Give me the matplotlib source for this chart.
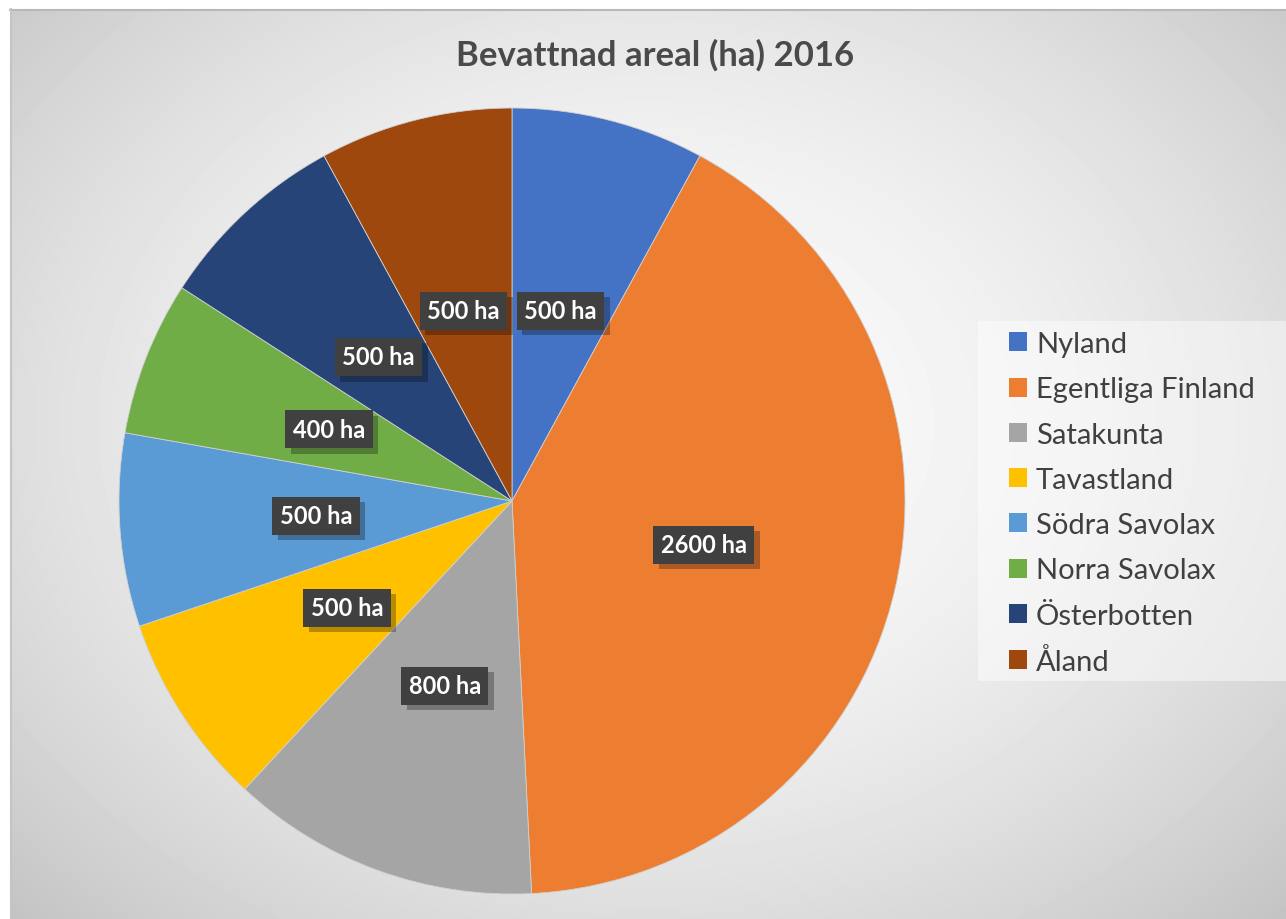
import numpy as np
import matplotlib.pyplot as plt
import matplotlib.patheffects as pe
from matplotlib.patches import Rectangle

# data
regions = ['Nyland', 'Egentliga Finland', 'Satakunta', 'Tavastland',
           'Södra Savolax', 'Norra Savolax', 'Österbotten', 'Åland']
area_ha = [500, 2600, 800, 500, 500, 400, 500, 500]
colors = ['#4472C4', '#ED7D31', '#A5A5A5', '#FFC000',
          '#5B9BD5', '#70AD47', '#264478', '#9E480E']
title = 'Bevattnad areal (ha) 2016'

plt.rcParams['font.family'] = ['Lato', 'DejaVu Sans']

W, H = 1286, 920
fig = plt.figure(figsize=(W / 100, H / 100), dpi=100)
fig.patch.set_facecolor('white')

# background: radial grey gradient in the chart area
bg = fig.add_axes([0, 0, 1, 1], zorder=0)
bg.set_xlim(0, W)
bg.set_ylim(H, 0)
bg.axis('off')
x0, y0 = 10, 10
xx, yy = np.meshgrid(np.linspace(x0, W, 400), np.linspace(y0, H, 300))
cx, cy = (x0 + W) / 2, (y0 + H) / 2 - 40
r = np.sqrt(((xx - cx) / (W - cx)) ** 2 + ((yy - cy) / (H - cy)) ** 2) / np.sqrt(2)
val = 0.985 - 0.22 * np.clip(r, 0, 1) ** 1.8
bg.imshow(val, cmap='gray', vmin=0, vmax=1, extent=(x0, W, H, y0),
          aspect='auto', interpolation='bilinear')
bg.plot([x0, W], [y0 + 0.5, y0 + 0.5], color='#b8b8b8', lw=1.5)
bg.plot([x0 + 0.5, x0 + 0.5], [y0, H], color='#c4c4c4', lw=1.5)
# legend backdrop
bg.add_patch(Rectangle((978, 322), W - 978, 360, facecolor='white',
                       alpha=0.45, edgecolor='none'))

# pie
cxp, cyp, rad = 512, 502, 393
ax = fig.add_axes([(cxp - rad) / W, (H - cyp - rad) / H, 2 * rad / W, 2 * rad / H], zorder=1)
wedges, _ = ax.pie(area_ha, colors=colors, startangle=90, counterclock=False,
                   radius=1, wedgeprops=dict(linewidth=0.6, edgecolor='#d0d0d0'))
ax.set_xlim(-1, 1)
ax.set_ylim(-1, 1)
ax.axis('off')

shadow = [pe.SimplePatchShadow(offset=(4, -4), shadow_rgbFace='black', alpha=0.28),
          pe.Normal()]
for w, v in zip(wedges, area_ha):
    ang = np.deg2rad((w.theta1 + w.theta2) / 2)
    lx, ly = 0.5 * np.cos(ang), 0.5 * np.sin(ang)
    t = ax.text(lx, ly, f'{v} ha', ha='center', va='center', fontsize=17,
                fontweight='bold', color='white',
                bbox=dict(boxstyle='square,pad=0.32', fc='#404040', ec='none'))
    t.get_bbox_patch().set_path_effects(shadow)

fig.text(655 / W, 1 - 55 / H, title, ha='center', va='center',
         fontsize=25, fontweight='bold', color='#4a4a4a')

leg = fig.legend(wedges, regions, loc='upper left',
                 bbox_to_anchor=(999 / W, 1 - 322 / H),
                 fontsize=21, frameon=False,
                 handlelength=0.62, handleheight=0.62, handletextpad=0.3,
                 labelspacing=0.66, borderpad=0.35, borderaxespad=0)
for t in leg.get_texts():
    t.set_color('#404040')
for p in leg.get_patches():
    p.set_edgecolor('none')

fig.savefig('out.png', dpi=100)
